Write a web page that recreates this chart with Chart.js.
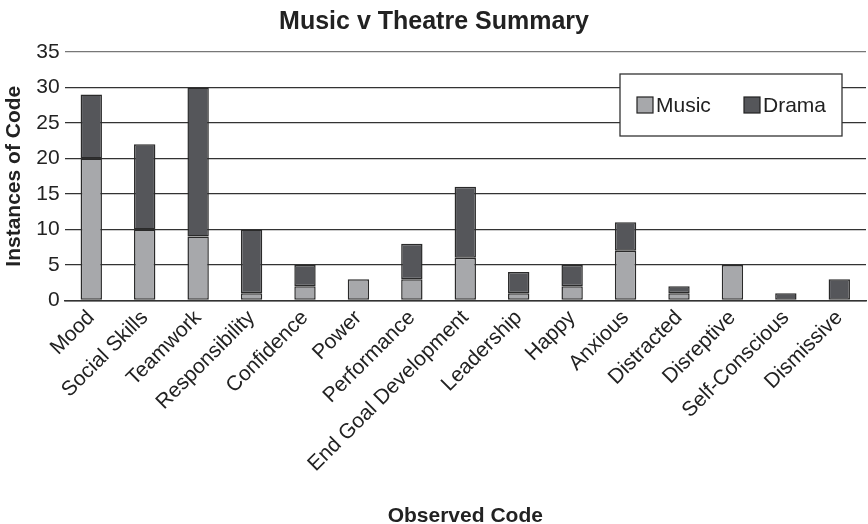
<!DOCTYPE html>
<html>
<head>
<meta charset="utf-8">
<script src="https://cdn.jsdelivr.net/npm/chart.js@4"></script>
<style>
  html, body { margin: 0; padding: 0; background: #fff; }
  #wrap { width: 868px; height: 524px; }
</style>
</head>
<body>
<div id="wrap"><canvas id="summaryChart"></canvas></div>
<script>
const codes = ['Mood', 'Social Skills', 'Teamwork', 'Responsibility', 'Confidence', 'Power', 'Performance',
    'End Goal Development', 'Leadership', 'Happy', 'Anxious', 'Distracted', 'Disreptive', 'Self-Conscious', 'Dismissive'];
const music = [20, 10, 9, 1, 2, 3, 3, 6, 1, 2, 7, 1, 5, 0, 0];
const drama = [9, 12, 21, 9, 3, 0, 5, 10, 3, 3, 4, 1, 0, 1, 3];

const FONT = "'Liberation Sans', Arial, sans-serif";

// legend box drawn inside the plot, top right
const boxLegend = {
    id: 'boxLegend',
    afterDraw(chart) {
        const c = chart.ctx;
        const x = 620, y = 74, w = 222, h = 62;
        c.save();
        c.fillStyle = '#fff';
        c.fillRect(x, y, w, h);
        c.strokeStyle = '#333';
        c.lineWidth = 1.3;
        c.strokeRect(x, y, w, h);
        c.font = '21px ' + FONT;
        c.textBaseline = 'middle';
        const starts = [637, 744];
        chart.data.datasets.forEach(function(ds, i) {
            const sx = starts[i];
            c.fillStyle = ds.backgroundColor;
            c.fillRect(sx, 97, 16, 16);
            c.strokeStyle = '#222';
            c.lineWidth = 1.2;
            c.strokeRect(sx, 97, 16, 16);
            c.fillStyle = '#222';
            c.fillText(ds.label, sx + 19, 106);
        });
        c.restore();
    }
};

const ctx = document.getElementById('summaryChart').getContext('2d');
new Chart(ctx, {
    type: 'bar',
    data: {
        labels: codes,
        datasets: [
            {
                label: 'Music',
                data: music,
                backgroundColor: '#a7a8ab',
                borderColor: '#2a2a2a',
                borderWidth: 1.5,
                borderSkipped: false,
                categoryPercentage: 1,
                barPercentage: 0.4
            },
            {
                label: 'Drama',
                data: drama,
                backgroundColor: '#55565a',
                borderColor: '#2a2a2a',
                borderWidth: 1.5,
                borderSkipped: false,
                categoryPercentage: 1,
                barPercentage: 0.4
            }
        ]
    },
    options: {
        responsive: true,
        maintainAspectRatio: false,
        animation: false,
        layout: { padding: { top: 0, right: 2, left: 2, bottom: 0 } },
        plugins: {
            legend: { display: false },
            tooltip: { enabled: false },
            title: {
                display: true,
                text: 'Music v Theatre Summary',
                color: '#222',
                font: { family: FONT, size: 25, weight: 'bold' },
                padding: { top: 7, bottom: 15 }
            }
        },
        scales: {
            x: {
                stacked: true,
                grid: { display: false, drawTicks: false },
                border: { display: true, color: '#333', width: 1.5 },
                ticks: {
                    color: '#222',
                    font: { family: FONT, size: 21 },
                    minRotation: 45,
                    maxRotation: 45,
                    padding: 5,
                    autoSkip: false
                },
                title: {
                    display: true,
                    text: 'Observed Code',
                    color: '#222',
                    font: { family: FONT, size: 21, weight: 'bold' },
                    padding: { top: 22, bottom: -5 }
                }
            },
            y: {
                stacked: true,
                min: 0,
                max: 35,
                grid: {
                    color: function(c) { return c.tick.value === 35 ? '#777' : '#333'; },
                    lineWidth: 1.3,
                    drawTicks: false
                },
                border: { display: false },
                ticks: {
                    stepSize: 5,
                    color: '#222',
                    font: { family: FONT, size: 21 },
                    padding: 5
                },
                title: {
                    display: true,
                    text: 'Instances of Code',
                    color: '#222',
                    font: { family: FONT, size: 21, weight: 'bold' },
                    padding: { top: 0, bottom: 4 }
                }
            }
        }
    },
    plugins: [boxLegend]
});
</script>
</body>
</html>
